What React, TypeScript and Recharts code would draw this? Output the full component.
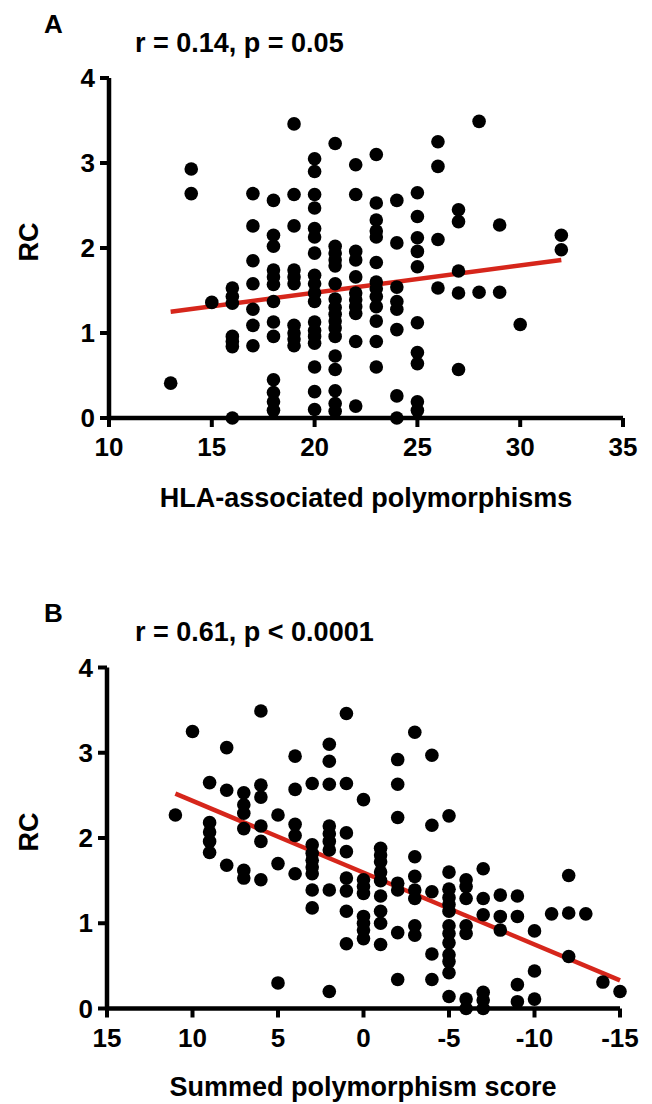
import { ReferenceLine, Scatter, ScatterChart, XAxis, YAxis } from "recharts";

// panel A: RC against number of HLA-associated polymorphisms
const hlaCounts = [13, 14, 15, 16, 17, 18, 19, 20, 21, 22, 23, 24, 25, 26, 27, 28, 29, 30, 32];
const rcByHla = [
  [0.41],
  [2.93, 2.64],
  [1.36],
  [1.53, 1.43, 1.35, 0.96, 0.9, 0.84, 0.0],
  [2.64, 2.26, 1.85, 1.58, 1.28, 1.09, 0.85],
  [2.56, 2.15, 2.02, 1.74, 1.66, 1.57, 1.37, 1.13, 0.96, 0.45, 0.3, 0.19, 0.09],
  [3.46, 2.63, 2.26, 1.74, 1.66, 1.58, 1.09, 1.0, 0.93, 0.85],
  [3.05, 2.9, 2.63, 2.47, 2.23, 2.13, 1.94, 1.68, 1.58, 1.47, 1.37, 1.13, 1.03, 0.96, 0.88, 0.6, 0.31, 0.1],
  [3.23, 2.02, 1.94, 1.86, 1.79, 1.58, 1.4, 1.3, 1.22, 1.14, 1.06, 0.96, 0.73, 0.57, 0.32, 0.17, 0.08],
  [2.98, 2.63, 1.96, 1.86, 1.66, 1.47, 1.39, 1.31, 1.23, 0.9, 0.14],
  [3.1, 2.53, 2.33, 2.2, 2.13, 1.83, 1.6, 1.52, 1.43, 1.31, 1.14, 0.9, 0.6],
  [2.56, 2.06, 1.54, 1.37, 1.28, 1.04, 0.26, 0.0],
  [2.65, 2.37, 2.12, 1.96, 1.78, 1.12, 0.77, 0.64, 0.19, 0.09],
  [3.25, 2.96, 2.1, 1.53],
  [2.45, 2.31, 1.73, 1.47, 0.57],
  [3.49, 1.48],
  [2.27, 1.48],
  [1.1],
  [2.15, 1.98],
];
const fitHlaX = [13, 32];
const fitHlaY = [1.25, 1.86];
const hlaTicks = [10, 15, 20, 25, 30, 35];

// panel B: RC against summed polymorphism score
const scores = [11, 10, 9, 8, 7, 6, 5, 4, 3, 2, 1, 0, -1, -2, -3, -4, -5, -6, -7, -8, -9, -10, -11, -12, -13, -14, -15];
const rcByScore = [
  [2.27],
  [3.25],
  [2.65, 2.18, 2.07, 1.96, 1.83],
  [3.06, 2.56, 1.68],
  [2.53, 2.39, 2.29, 2.11, 1.62, 1.53],
  [3.49, 2.62, 2.48, 2.14, 1.96, 1.51],
  [2.27, 1.7, 0.3],
  [2.96, 2.57, 2.16, 2.03, 1.58],
  [2.64, 1.92, 1.82, 1.74, 1.66, 1.58, 1.39, 1.18],
  [3.1, 2.9, 2.63, 2.14, 2.05, 1.96, 1.86, 1.39, 0.2],
  [3.46, 2.64, 2.06, 1.84, 1.53, 1.38, 1.14, 0.76],
  [2.45, 1.51, 1.43, 1.35, 1.08, 1.0, 0.92, 0.82],
  [1.88, 1.8, 1.72, 1.6, 1.5, 1.32, 1.14, 1.0, 0.75],
  [2.92, 2.63, 2.24, 1.47, 1.39, 0.89, 0.34],
  [3.24, 1.78, 1.55, 1.39, 1.29, 0.97, 0.86],
  [2.97, 2.15, 1.37, 0.64, 0.34],
  [2.26, 1.6, 1.4, 1.3, 1.22, 1.14, 0.97, 0.88, 0.77, 0.63, 0.55, 0.42, 0.14],
  [1.51, 1.43, 1.29, 0.97, 0.88, 0.11, 0.0],
  [1.64, 1.29, 1.1, 0.19, 0.1, 0.0],
  [1.33, 1.08, 0.92],
  [1.32, 1.08, 0.28, 0.08],
  [0.91, 0.44, 0.11],
  [1.11],
  [1.56, 1.12, 0.61],
  [1.11],
  [0.31],
  [0.2],
];
const fitScoreX = [11, -15];
const fitScoreY = [2.52, 0.33];
const scoreTicks = [15, 10, 5, 0, -5, -10, -15];

const rcTicks = [0, 1, 2, 3, 4];

const FONT = "'Liberation Sans', Arial, Helvetica, sans-serif";
const RED = "#d6261b";

function toPoints(xs: number[], ys: number[][]) {
  return xs.flatMap((x, i) => ys[i].map((y) => ({ x, y })));
}

const dot = (props: any) => <circle cx={props.cx} cy={props.cy} r={6.8} fill="#000" />;

const tickStyle = { fill: "#000", fontSize: 26, fontWeight: 700, fontFamily: FONT };
const axisLine = { stroke: "#000", strokeWidth: 4.5 };
const tickLine = { stroke: "#000", strokeWidth: 4 };

interface PanelProps {
  data: { x: number; y: number }[];
  fitX: number[];
  fitY: number[];
  xTicks: number[];
  reversed?: boolean;
  margin: { top: number; right: number; left: number; bottom: number };
  xHeight: number;
  yWidth: number;
}

function Panel({ data, fitX, fitY, xTicks, reversed, margin, xHeight, yWidth }: PanelProps) {
  const lo = Math.min(...xTicks);
  const hi = Math.max(...xTicks);
  return (
    <ScatterChart width={652} height={552} margin={margin}>
      <XAxis
        type="number"
        dataKey="x"
        domain={[lo, hi]}
        ticks={xTicks}
        reversed={reversed}
        height={xHeight}
        tick={tickStyle}
        tickSize={9}
        tickMargin={11}
        axisLine={axisLine}
        tickLine={tickLine}
        interval={0}
      />
      <YAxis
        type="number"
        dataKey="y"
        domain={[0, 4]}
        ticks={rcTicks}
        width={yWidth}
        tick={tickStyle}
        tickSize={9}
        tickMargin={5}
        axisLine={axisLine}
        tickLine={tickLine}
        interval={0}
      />
      <Scatter data={data} shape={dot} isAnimationActive={false} />
      <ReferenceLine
        segment={[
          { x: fitX[0], y: fitY[0] },
          { x: fitX[1], y: fitY[1] },
        ]}
        stroke={RED}
        strokeWidth={4.5}
      />
    </ScatterChart>
  );
}

export default function App() {
  const dataA = toPoints(hlaCounts, rcByHla);
  const dataB = toPoints(scores, rcByScore);
  const bold = { fontFamily: FONT, fontWeight: 700, fill: "#000" } as const;
  return (
    <div style={{ position: "absolute", left: 0, top: 0, width: 652, height: 1104, background: "#fff" }}>
      <div style={{ position: "absolute", left: 0, top: 0 }}>
        <Panel
          data={dataA}
          fitX={fitHlaX}
          fitY={fitHlaY}
          xTicks={hlaTicks}
          margin={{ top: 78, right: 29, left: 0, bottom: 0 }}
          xHeight={134}
          yWidth={109}
        />
      </div>
      <div style={{ position: "absolute", left: 0, top: 552 }}>
        <Panel
          data={dataB}
          fitX={fitScoreX}
          fitY={fitScoreY}
          xTicks={scoreTicks}
          reversed
          margin={{ top: 115.5, right: 32, left: 0, bottom: 0 }}
          xHeight={95.5}
          yWidth={107}
        />
      </div>
      <svg width={652} height={1104} style={{ position: "absolute", left: 0, top: 0, pointerEvents: "none" }}>
        <text x={44} y={33} fontSize={26} {...bold}>A</text>
        <text x={135} y={52} fontSize={27} {...bold}>r = 0.14, p = 0.05</text>
        <text transform="translate(38,242) rotate(-90)" textAnchor="middle" fontSize={27} {...bold}>RC</text>
        <text x={366} y={507} textAnchor="middle" fontSize={27} {...bold}>HLA-associated polymorphisms</text>

        <text x={44} y={622} fontSize={26} {...bold}>B</text>
        <text x={135} y={641} fontSize={27} {...bold}>r = 0.61, p &lt; 0.0001</text>
        <text transform="translate(38,832) rotate(-90)" textAnchor="middle" fontSize={27} {...bold}>RC</text>
        <text x={363} y={1096} textAnchor="middle" fontSize={27} {...bold}>Summed polymorphism score</text>
      </svg>
    </div>
  );
}
